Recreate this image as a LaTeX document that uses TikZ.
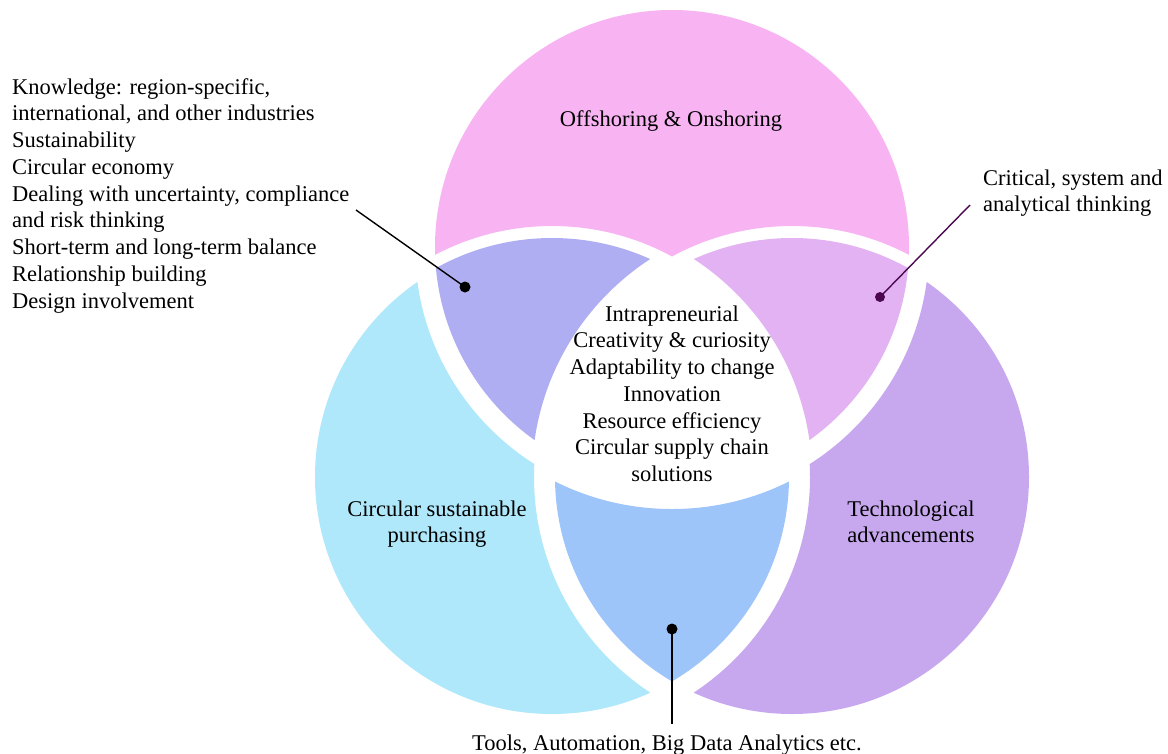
\documentclass[tikz,border=0pt]{standalone}
\usepackage{fontspec}
\setmainfont{Liberation Serif}
\definecolor{pinkc}{RGB}{248,179,243}
\definecolor{cyanc}{RGB}{174,232,250}
\definecolor{purplec}{RGB}{199,168,238}
\definecolor{lavc}{RGB}{176,174,242}
\definecolor{violc}{RGB}{226,178,242}
\definecolor{bluec}{RGB}{158,197,250}
\definecolor{plumdot}{RGB}{75,8,80}
\begin{document}
\begin{tikzpicture}[x=1pt,y=-1pt,
  lbl/.style={inner sep=0pt, font=\fontsize{22.5}{26.75}\selectfont},
  dotmark/.style={circle, inner sep=0pt, minimum size=11pt},
  lead/.style={line width=1.4pt}]
\useasboundingbox (0,0) rectangle (1168,753);

% circle centres
\coordinate (P) at (672,247);
\coordinate (B) at (552,477);
\coordinate (U) at (792,477);

% keep the inside of one circle / cut away the inside of another
\newcommand{\keepin}[2]{\clip (#1) circle[radius=#2pt];}
\newcommand{\cutout}[2]{\clip (-50,-50) rectangle (1220,800) (#1) circle[radius=#2pt];}
\newcommand{\paintall}[1]{\fill[#1] (-50,-50) rectangle (1220,800);}

\begin{scope}[even odd rule]
  % top circle only
  \begin{scope}
    \keepin{P}{237}\cutout{B}{251}\cutout{U}{251}\paintall{pinkc}
  \end{scope}
  % left circle only
  \begin{scope}
    \keepin{B}{237}\cutout{P}{257}\cutout{U}{258}\paintall{cyanc}
  \end{scope}
  % right circle only
  \begin{scope}
    \keepin{U}{237}\cutout{P}{257}\cutout{B}{258}\paintall{purplec}
  \end{scope}
  % top and left overlap
  \begin{scope}
    \keepin{P}{237}\keepin{B}{239}\cutout{U}{260}\paintall{lavc}
  \end{scope}
  % top and right overlap
  \begin{scope}
    \keepin{P}{237}\keepin{U}{239}\cutout{B}{260}\paintall{violc}
  \end{scope}
  % left and right overlap
  \begin{scope}
    \keepin{B}{237}\keepin{U}{237}\cutout{P}{262}\paintall{bluec}
  \end{scope}
\end{scope}

% labels
\node[lbl, anchor=base] (offs) at (671,126) {Offshoring \& Onshoring};
\node[lbl, anchor=base] (core) at (672,321) {\begin{tabular}[t]{@{}c@{}}
  Intrapreneurial\\ Creativity \& curiosity\\ Adaptability to change\\
  Innovation\\ Resource efficiency\\ Circular supply chain\\ solutions\end{tabular}};
\node[lbl, anchor=base] (purch) at (437,516) {\begin{tabular}[t]{@{}c@{}}
  Circular sustainable\\ purchasing\end{tabular}};
\node[lbl, anchor=base] (tech) at (911,516) {\begin{tabular}[t]{@{}c@{}}
  Technological\\ advancements\end{tabular}};
\node[lbl, anchor=base west] (know) at (12,94) {\begin{tabular}[t]{@{}l@{}}
  Knowledge: region-specific,\\ international, and other industries\\
  Sustainability\\ Circular economy\\
  Dealing with uncertainty, compliance\\ and risk thinking\\
  Short-term and long-term balance\\ Relationship building\\
  Design involvement\end{tabular}};
\node[lbl, anchor=base west] (crit) at (983,185) {\begin{tabular}[t]{@{}l@{}}
  Critical, system and\\ analytical thinking\end{tabular}};
\node[lbl, anchor=base] (tools) at (667,750) {Tools, Automation, Big Data Analytics etc.};

% pointers
\node[dotmark, fill=black] (kdot) at (465,287) {};
\node[dotmark, fill=plumdot, minimum size=10pt] (cdot) at (880,297) {};
\node[dotmark, fill=black] (tdot) at (672,629) {};
\coordinate (kend) at (356,210);
\coordinate (cend) at (970,205);
\coordinate (tend) at (672,724);
\draw[lead] (kend) -- (kdot.center);
\draw[lead, plumdot] (cend) -- (cdot.center);
\draw[lead] (tdot.center) -- (tend);
\end{tikzpicture}
\end{document}
